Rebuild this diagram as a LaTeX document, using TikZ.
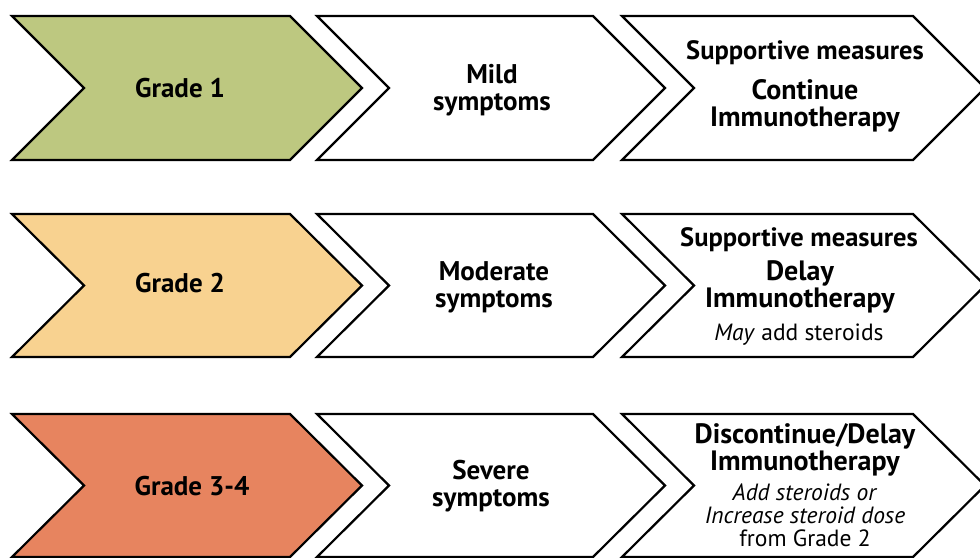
\documentclass[tikz,border=0pt]{standalone}
\usepackage{fontspec}
\setmainfont{PT Sans}
\definecolor{gradeone}{HTML}{BDC880}
\definecolor{gradetwo}{HTML}{F8D290}
\definecolor{gradethree}{HTML}{E7845F}
\tikzset{
  chev/.style={draw=black, line width=2.2pt, line join=miter},
  lbl/.style={align=center, font=\bfseries\fontsize{27}{27}\selectfont, inner sep=0pt},
  head/.style={lbl, font=\bfseries\fontsize{26.5}{26}\selectfont},
  act/.style={lbl, font=\bfseries\fontsize{28}{26.5}\selectfont},
  note/.style={lbl, font=\fontsize{23.5}{23}\selectfont},
}
% chevron: #1 fill, #2 left x, #3 right x (top corner), #4 top y, #5 bottom y
\newcommand\chevronshape[5]{%
  \path[chev, fill=#1] (#2,#4) -- (#3,#4) -- ({#3+72},{(#4+#5)/2}) -- (#3,#5)
    -- (#2,#5) -- ({#2+72},{(#4+#5)/2}) -- cycle;}
\begin{document}
\begin{tikzpicture}[x=1pt,y=-1pt]
\useasboundingbox (0,0) rectangle (980,557);
% row 1
\chevronshape{gradeone}{12}{290}{16}{160}
\chevronshape{white}{317}{593}{16}{160}
\chevronshape{white}{622}{913}{16}{160}
% row 2
\chevronshape{gradetwo}{12}{290}{214}{357}
\chevronshape{white}{317}{593}{214}{357}
\chevronshape{white}{622}{913}{214}{357}
% row 3
\chevronshape{gradethree}{12}{290}{414}{557}
\chevronshape{white}{317}{593}{414}{557}
\chevronshape{white}{622}{913}{414}{557}

\node[lbl] (g1) at (180,88) {Grade 1};
\node[lbl] (s1) at (492,90) {Mild\\symptoms};
\node[head] (a1) at (805,53) {Supportive measures};
\node[act] (b1) at (805,106) {Continue\\Immunotherapy};

\node[lbl] (g2) at (180,283) {Grade 2};
\node[lbl] (s2) at (494,287) {Moderate\\symptoms};
\node[head] (a2) at (799,240) {Supportive measures};
\node[act] (b2) at (800,287) {Delay\\Immunotherapy};
\node[note] (c2) at (799,335) {\textit{May} add steroids};

\node[lbl] (g3) at (192,486) {Grade 3-4};
\node[lbl] (s3) at (491,486) {Severe\\symptoms};
\node[act] (b3) at (805,450) {Discontinue/Delay\\Immunotherapy};
\node[note] (c3) at (805,515) {\textit{Add steroids or}\\\textit{Increase steroid dose}\\from Grade 2};
\end{tikzpicture}
\end{document}
